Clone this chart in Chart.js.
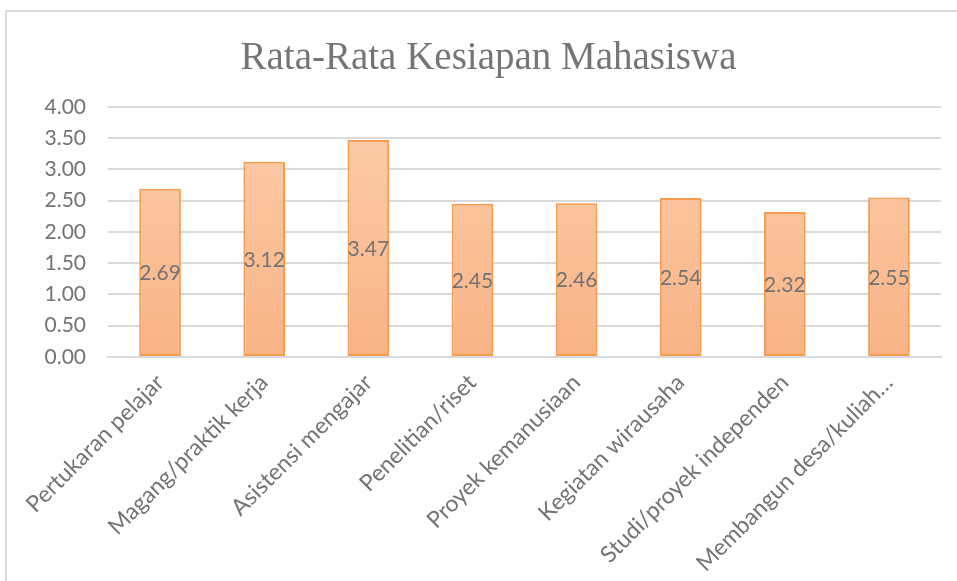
<!DOCTYPE html>
<html>
<head>
<meta charset="utf-8">
<script src="https://cdn.jsdelivr.net/npm/chart.js@4.4.0/dist/chart.umd.min.js"></script>
<style>
  html, body { margin: 0; padding: 0; background: #fff; overflow: hidden; }
  #frame { position: absolute; left: 5px; top: 10px; width: 1000px; height: 640px; border: 2px solid #d9d9d9; box-sizing: border-box; }
  #wrap { position: absolute; left: 0; top: 0; width: 957px; height: 581px; }
</style>
</head>
<body>
<div id="frame"></div>
<div id="wrap"><canvas id="c"></canvas></div>
<script>
const titleText = 'Rata-Rata Kesiapan Mahasiswa';
const categories = [
  'Pertukaran pelajar',
  'Magang/praktik kerja',
  'Asistensi mengajar',
  'Penelitian/riset',
  'Proyek kemanusiaan',
  'Kegiatan wirausaha',
  'Studi/proyek independen',
  'Membangun desa/kuliah…'
];
const values = [2.69, 3.12, 3.47, 2.45, 2.46, 2.54, 2.32, 2.55];
const yTicks = [0, 0.5, 1, 1.5, 2, 2.5, 3, 3.5, 4];

const textColor = '#737373';

const valueLabels = {
  id: 'valueLabels',
  afterDatasetsDraw(chart) {
    const ctx = chart.ctx;
    const meta = chart.getDatasetMeta(0);
    ctx.save();
    ctx.font = '21px Lato';
    ctx.fillStyle = textColor;
    ctx.textAlign = 'center';
    ctx.textBaseline = 'middle';
    meta.data.forEach((bar, i) => {
      const v = chart.data.datasets[0].data[i];
      ctx.fillText(v.toFixed(2), bar.x, (bar.y + bar.base) / 2 + 1);
    });
    ctx.restore();
  }
};

new Chart(document.getElementById('c'), {
  type: 'bar',
  data: {
    labels: categories,
    datasets: [{
      data: values,
      backgroundColor(context) {
        const ca = context.chart.chartArea;
        if (!ca) return '#FBBF96';
        const g = context.chart.ctx.createLinearGradient(0, ca.top, 0, ca.bottom);
        g.addColorStop(0, '#FCCDAB');
        g.addColorStop(1, '#F9B385');
        return g;
      },
      borderColor: '#F59C50',
      borderWidth: 2,
      borderSkipped: false,
      barPercentage: 1,
      categoryPercentage: 0.4
    }]
  },
  options: {
    responsive: true,
    maintainAspectRatio: false,
    animation: false,
    layout: { padding: { left: 36, right: 16, top: 0, bottom: 0 } },
    plugins: {
      legend: { display: false },
      tooltip: { enabled: false },
      title: {
        display: true,
        text: titleText,
        color: '#757575',
        font: { family: 'Liberation Serif', size: 39, weight: 'normal' },
        padding: { top: 35, bottom: 25 }
      }
    },
    scales: {
      x: {
        afterFit(scale) { scale.height = 224; },
        grid: { display: false, drawTicks: false },
        border: { color: '#d9d9d9', width: 2 },
        ticks: {
          color: textColor,
          font: { family: 'Lato', size: 23 },
          maxRotation: 45,
          minRotation: 45,
          autoSkip: false,
          padding: 12
        }
      },
      y: {
        min: 0,
        max: 4,
        afterFit(scale) { scale.width = 72; },
        afterBuildTicks(scale) { scale.ticks = yTicks.map(v => ({ value: v })); },
        grid: { color: '#d9d9d9', lineWidth: 2, drawTicks: false },
        border: { display: false },
        ticks: {
          color: textColor,
          font: { family: 'Lato', size: 21 },
          padding: 22,
          callback: v => Number(v).toFixed(2)
        }
      }
    }
  },
  plugins: [valueLabels]
});
</script>
</body>
</html>
